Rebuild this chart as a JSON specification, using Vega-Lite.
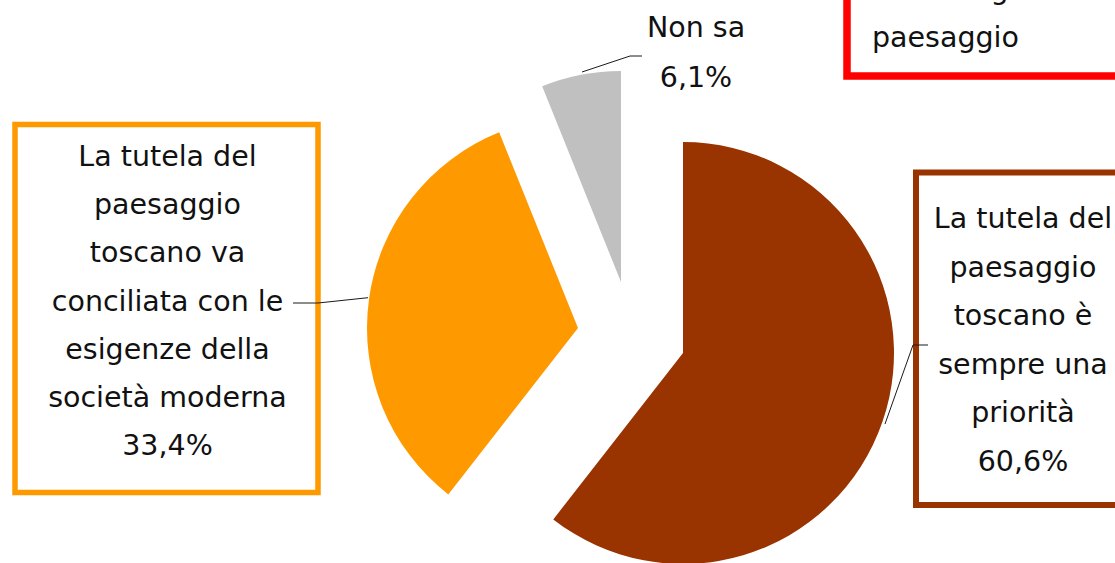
{
  "$schema": "https://vega.github.io/schema/vega-lite/v6.json",
  "width": 1115,
  "height": 563,
  "autosize": {"type": "none"},
  "padding": 0,
  "background": "white",
  "config": {"view": {"stroke": null}, "text": {"font": "DejaVu Sans"}},
  "layer": [
    {
      "data": {
        "values": [
          {"cat": "priorita", "value": 60.6, "label": "La tutela del\npaesaggio\ntoscano è\nsempre una\npriorità\n60,6%"},
          {"cat": "conciliata", "value": 33.4, "label": "La tutela del\npaesaggio\ntoscano va\nconciliata con le\nesigenze della\nsocietà moderna\n33,4%"},
          {"cat": "nonsa", "value": 6.1, "label": "Non sa\n6,1%"}
        ]
      },
      "transform": [
        {"stack": "value", "groupby": [], "sort": [{"field": "value", "order": "descending"}], "as": ["v0", "v1"]}
      ],
      "layer": [
        {
          "transform": [{"filter": "datum.cat === 'priorita'"}],
          "mark": {"type": "arc", "outerRadius": 211, "xOffset": 125.5, "yOffset": 71.5, "color": "#993300"},
          "encoding": {
            "theta": {"field": "v0", "type": "quantitative", "scale": {"domain": [0, 100.1]}},
            "theta2": {"field": "v1"}
          }
        },
        {
          "transform": [{"filter": "datum.cat === 'conciliata'"}],
          "mark": {"type": "arc", "outerRadius": 211, "xOffset": 20.5, "yOffset": 46.5, "color": "#FF9900"},
          "encoding": {
            "theta": {"field": "v0", "type": "quantitative", "scale": {"domain": [0, 100.1]}},
            "theta2": {"field": "v1"}
          }
        },
        {
          "transform": [{"filter": "datum.cat === 'nonsa'"}],
          "mark": {"type": "arc", "outerRadius": 211, "xOffset": 63.5, "yOffset": 0.5, "color": "#C0C0C0"},
          "encoding": {
            "theta": {"field": "v0", "type": "quantitative", "scale": {"domain": [0, 100.1]}},
            "theta2": {"field": "v1"}
          }
        },
        {
          "transform": [{"filter": "datum.cat === 'conciliata'"}],
          "mark": {"type": "point", "shape": "M-542.5,-157H-239.5V211H-542.5Z", "size": 4, "filled": true, "fill": "white", "stroke": "#FF9900", "strokeWidth": 5.5, "opacity": 1},
          "encoding": {}
        },
        {
          "transform": [{"filter": "datum.cat === 'priorita'"}],
          "mark": {"type": "point", "shape": "M358.5,-109H577.5V223.5H358.5Z", "size": 4, "filled": true, "fill": "white", "stroke": "#993300", "strokeWidth": 6, "opacity": 1},
          "encoding": {}
        },
        {
          "transform": [{"filter": "datum.cat === 'conciliata'"}],
          "mark": {"type": "point", "shape": "M-264.5,21.5L-239.5,21.5L-189.5,16.2", "size": 4, "filled": false, "fill": null, "stroke": "#1a1a1a", "strokeWidth": 1, "opacity": 1},
          "encoding": {}
        },
        {
          "transform": [{"filter": "datum.cat === 'priorita'"}],
          "mark": {"type": "point", "shape": "M327.5,142.5L355.5,63.5L370.5,63.5", "size": 4, "filled": false, "fill": null, "stroke": "#1a1a1a", "strokeWidth": 1, "opacity": 1},
          "encoding": {}
        },
        {
          "transform": [{"filter": "datum.cat === 'nonsa'"}],
          "mark": {"type": "point", "shape": "M24.5,-209.5L72.5,-225.5L84.5,-225.5", "size": 4, "filled": false, "fill": null, "stroke": "#1a1a1a", "strokeWidth": 1, "opacity": 1},
          "encoding": {}
        },
        {
          "transform": [{"filter": "datum.cat === 'priorita'"}],
          "mark": {"type": "text", "lineBreak": "\n", "fontSize": 28.5, "lineHeight": 48.6, "align": "center", "baseline": "middle", "color": "#111111", "xOffset": 465.5, "yOffset": -62.5},
          "encoding": {"text": {"field": "label"}}
        },
        {
          "transform": [{"filter": "datum.cat === 'conciliata'"}],
          "mark": {"type": "text", "lineBreak": "\n", "fontSize": 28.5, "lineHeight": 48.2, "align": "center", "baseline": "middle", "color": "#111111", "xOffset": -390, "yOffset": -124.5},
          "encoding": {"text": {"field": "label"}}
        },
        {
          "transform": [{"filter": "datum.cat === 'nonsa'"}],
          "mark": {"type": "text", "lineBreak": "\n", "fontSize": 28.5, "lineHeight": 50, "align": "center", "baseline": "middle", "color": "#111111", "xOffset": 138.5, "yOffset": -253.5},
          "encoding": {"text": {"field": "label"}}
        }
      ]
    },
    {
      "data": {"values": [{"note": "che bisogna dare al\npaesaggio"}]},
      "layer": [
        {
          "mark": {"type": "point", "shape": "M289.5,-341.5H582.5V-205.5H289.5Z", "size": 4, "filled": true, "fill": "white", "stroke": "#FF0000", "strokeWidth": 7.5, "opacity": 1},
          "encoding": {}
        },
        {
          "mark": {"type": "text", "lineBreak": "\n", "fontSize": 28.5, "lineHeight": 48, "align": "left", "baseline": "alphabetic", "color": "#111111", "xOffset": 314.5, "yOffset": -282.5},
          "encoding": {"text": {"field": "note"}}
        }
      ]
    }
  ]
}
